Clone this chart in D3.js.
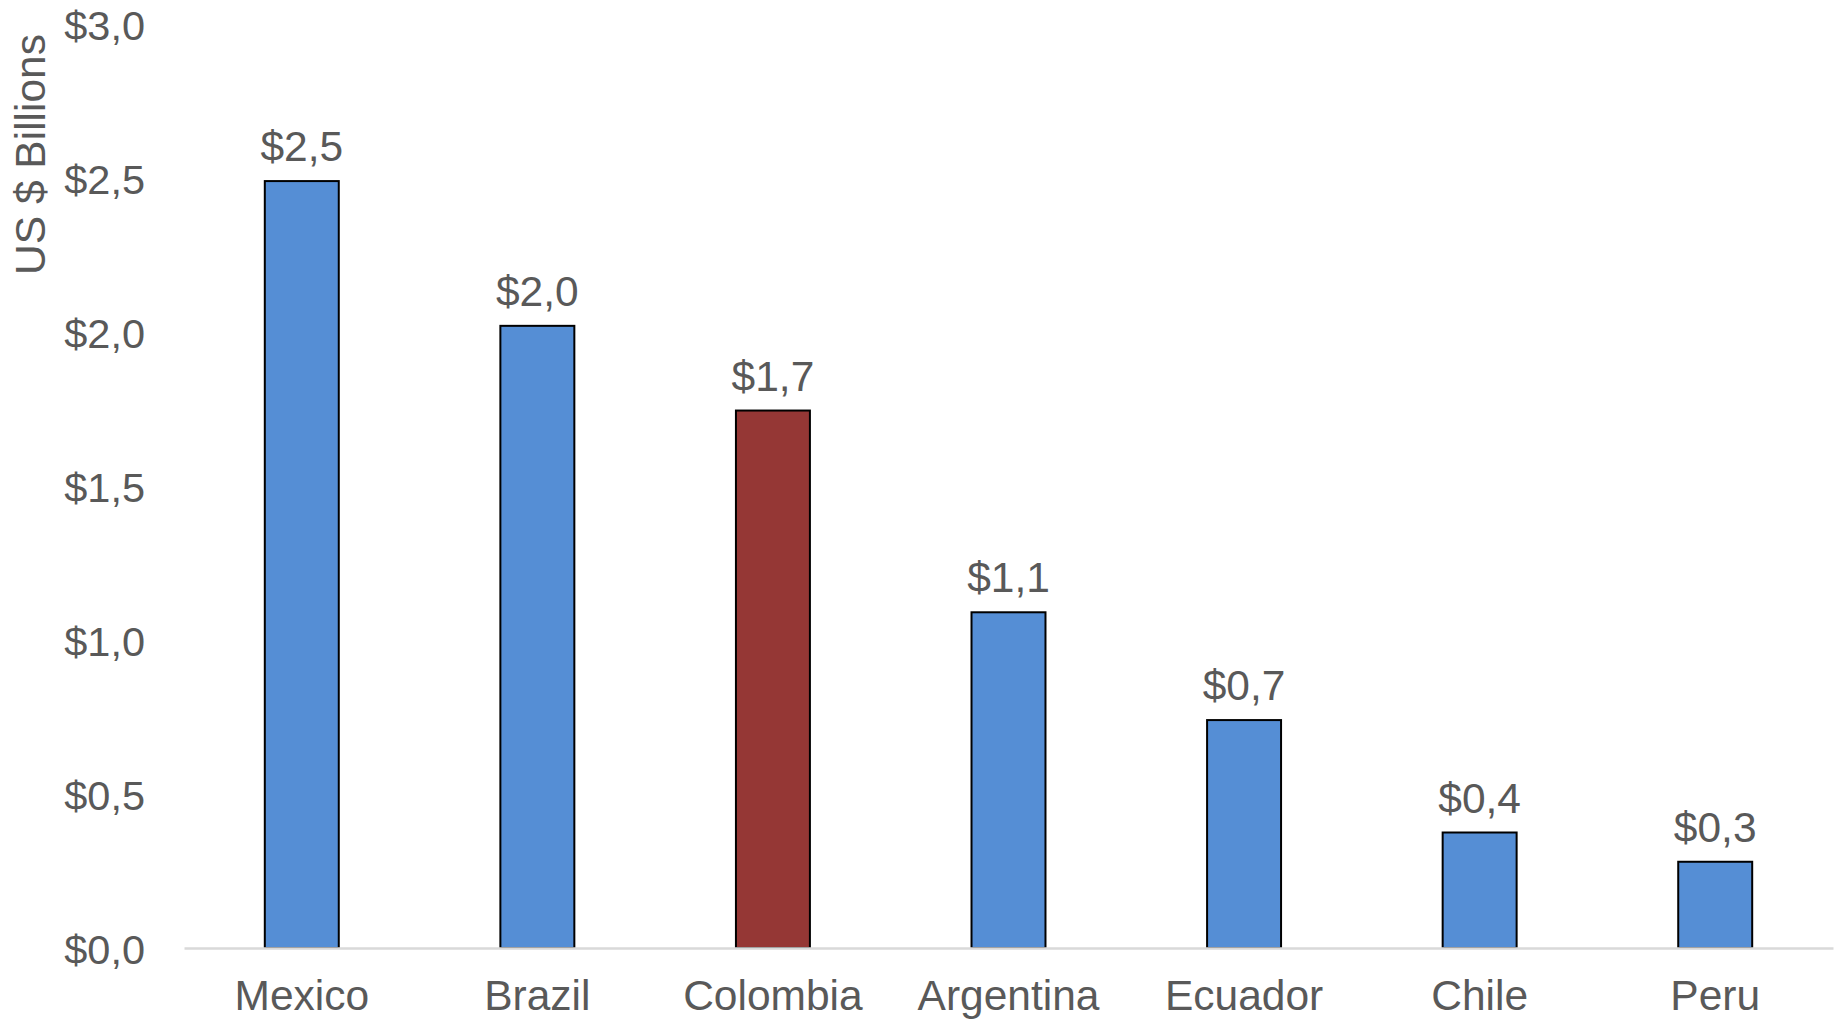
<!DOCTYPE html>
<html>
<head>
<meta charset="utf-8">
<script src="https://cdn.jsdelivr.net/npm/d3@7"></script>
<style>
  html, body { margin: 0; padding: 0; background: #ffffff; }
  svg { display: block; }
  text { font-family: "Liberation Sans", Arial, sans-serif; fill: #595959; }
</style>
</head>
<body>
<svg id="chart" width="1839" height="1020"></svg>
<script>
// Country investment totals, US$ billions
const countries = ["Mexico", "Brazil", "Colombia", "Argentina", "Ecuador", "Chile", "Peru"];
const values = [2.49, 2.02, 1.745, 1.09, 0.74, 0.375, 0.28];
const highlighted = ["Colombia"];
const yTicks = [0, 0.5, 1.0, 1.5, 2.0, 2.5, 3.0];
const yTitle = "US $ Billions";

const svg = d3.select("#chart");
const W = 1839, H = 1020;
const m = { left: 184, right: 6, top: 24, bottom: 72 };

const x = d3.scaleBand()
  .domain(countries)
  .range([m.left, W - m.right])
  .paddingInner(0.686)
  .paddingOuter(0.343);

const y = d3.scaleLinear()
  .domain([0, 3])
  .range([H - m.bottom, m.top]);

// number format with decimal comma
const fmt = v => "$" + d3.format(".1f")(v).replace(".", ",");

// y axis labels (no line, no ticks)
const yAxis = d3.axisLeft(y)
  .tickValues(yTicks)
  .tickSize(0)
  .tickPadding(0)
  .tickFormat(fmt);

svg.append("g")
  .attr("transform", `translate(145,0)`)
  .call(yAxis)
  .call(g => g.select(".domain").remove())
  .call(g => g.selectAll("text")
    .attr("font-size", 41.5)
    .attr("font-family", "Liberation Sans, Arial, sans-serif")
    .attr("fill", "#595959")
    .attr("dy", "0.38em"));

// bars
const data = countries.map((c, i) => ({ c, v: values[i] }));

svg.append("g")
  .selectAll("rect")
  .data(data)
  .join("rect")
  .attr("x", d => x(d.c))
  .attr("y", d => y(d.v))
  .attr("width", x.bandwidth())
  .attr("height", d => y(0) - y(d.v))
  .attr("fill", d => highlighted.includes(d.c) ? "#953735" : "#558ED5")
  .attr("stroke", "#000000")
  .attr("stroke-width", 2);

// x axis baseline and category labels
const xAxis = d3.axisBottom(x).tickSize(0).tickPadding(0);
svg.append("g")
  .attr("transform", `translate(0,${y(0)})`)
  .call(xAxis)
  .call(g => g.select(".domain")
    .attr("stroke", "#D9D9D9")
    .attr("stroke-width", 2.5))
  .call(g => g.selectAll("text")
    .attr("font-size", 42.5)
    .attr("font-family", "Liberation Sans, Arial, sans-serif")
    .attr("fill", "#595959")
    .attr("dy", null)
    .attr("y", 62));

// value labels above the bars
svg.append("g")
  .selectAll("text")
  .data(data)
  .join("text")
  .attr("x", d => x(d.c) + x.bandwidth() / 2)
  .attr("y", d => y(d.v) - 20)
  .attr("text-anchor", "middle")
  .attr("font-size", 42.5)
  .attr("fill", "#404040")
  .text(d => fmt(d.v));

// y axis title
svg.append("text")
  .attr("transform", "translate(45,34) rotate(-90)")
  .attr("text-anchor", "end")
  .attr("font-size", 42.5)
  .text(yTitle);
</script>
</body>
</html>
